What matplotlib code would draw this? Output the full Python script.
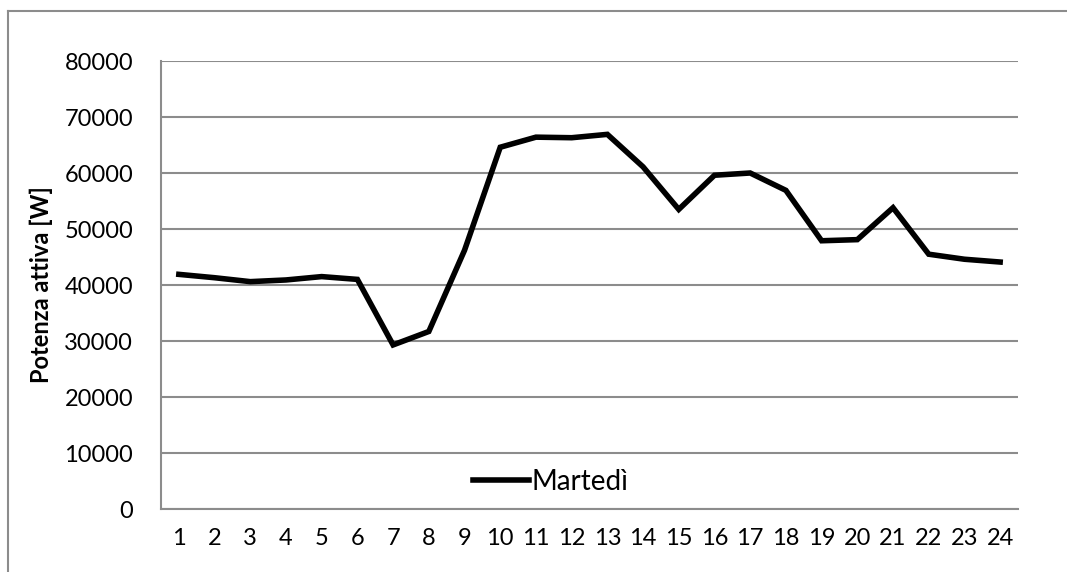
import matplotlib.pyplot as plt
from matplotlib.lines import Line2D

# ore del giorno e potenza attiva (martedì)
ore = list(range(1, 25))
potenza = [41900, 41300, 40600, 40900, 41500, 41000, 29300, 31700,
           46200, 64600, 66400, 66300, 66900, 61100, 53500, 59600,
           60000, 56900, 47900, 48100, 53800, 45500, 44600, 44100]
yticks = list(range(0, 80001, 10000))

plt.rcParams['font.family'] = ['Lato', 'DejaVu Sans']

fig = plt.figure(figsize=(10.67, 5.72), dpi=100)
ax = fig.add_axes([161 / 1067, 1 - 509 / 572, 857 / 1067, 448 / 572])

ax.plot(ore, potenza, color='black', linewidth=4, solid_joinstyle='miter',
        label='Martedì')

ax.set_xlim(0.5, 24.5)
ax.set_ylim(0, 80000)
ax.set_yticks(yticks)
ax.set_xticks(ore)
ax.set_yticklabels([str(v) for v in yticks])
ax.grid(axis='y', color='#8c8c8c', linewidth=1.5)
ax.set_axisbelow(True)

for s in ['top', 'right']:
    ax.spines[s].set_visible(False)
for s in ['left', 'bottom']:
    ax.spines[s].set_color('#8c8c8c')
    ax.spines[s].set_linewidth(1.5)

ax.tick_params(axis='both', length=0, labelsize=17, colors='black')
ax.tick_params(axis='y', pad=20)
ax.tick_params(axis='x', pad=14)

ax.set_ylabel('Potenza attiva [W]', fontsize=17, fontweight='bold')
ax.yaxis.set_label_coords(-0.126, 0.5)

ax.legend(loc='lower center', bbox_to_anchor=(0.455, -0.025), frameon=False,
          fontsize=20, handlelength=2.0, handletextpad=0.1)

# bordo esterno del grafico
fig.add_artist(Line2D([8 / 1067, 8 / 1067], [0, 1 - 11 / 572],
                      transform=fig.transFigure, color='#8c8c8c', linewidth=1.5))
fig.add_artist(Line2D([8 / 1067, 1], [1 - 11 / 572, 1 - 11 / 572],
                      transform=fig.transFigure, color='#8c8c8c', linewidth=1.5))

fig.savefig('out.png', dpi=100)
